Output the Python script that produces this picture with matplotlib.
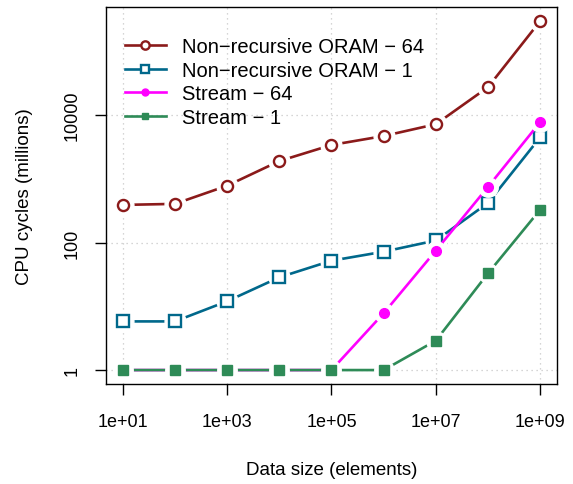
import numpy as np
import matplotlib
matplotlib.use("Agg")
import matplotlib.pyplot as plt

plt.rcParams['font.family'] = ['Liberation Sans', 'DejaVu Sans']

# data sizes (elements)
sizes = [1e1, 1e2, 1e3, 1e4, 1e5, 1e6, 1e7, 1e8, 1e9]

# CPU cycles (millions)
oram_64 = [390, 405, 780, 1900, 3400, 4700, 7200, 27500, 300000]
oram_1 = [5.8, 5.8, 12, 28.5, 52, 72, 108, 420, 4500]
stream_64 = [1, 1, 1, 1, 1, 7.8, 75, 750, 7800]
stream_1 = [1, 1, 1, 1, 1, 1, 2.9, 33, 330]

labels = ['Non\u2212recursive ORAM \u2212 64', 'Non\u2212recursive ORAM \u2212 1',
          'Stream \u2212 64', 'Stream \u2212 1']
colors = ['#8B1A1A', '#00688B', '#FF00FF', '#2E8B57']

fig = plt.figure(figsize=(5.73, 4.85), dpi=100)
ax = fig.add_axes([0.185, 0.206, 0.787, 0.778])

series = [
    (oram_64, 'o', 'white', 8, 1.7),
    (oram_1, 's', 'white', 8, 1.7),
    (stream_64, 'o', None, 7, 1.0),
    (stream_1, 's', None, 7, 1.0),
]

handles = []
for i, (vals, mk, face, ms, mew) in enumerate(series):
    c = colors[i]
    fc = c if face is None else face
    # line, then white blob to make the R "type='b'" gap, then marker
    ax.plot(sizes, vals, color=c, lw=1.9, zorder=2 + i)
    ax.plot(sizes, vals, ls='none', marker='o', ms=ms + 7, mfc='white',
            mec='white', zorder=2 + i)
    ax.plot(sizes, vals, ls='none', marker=mk, ms=ms, mfc=fc, mec=c,
            mew=mew, zorder=2 + i)
    handles.append(plt.Line2D([], [], color=c, lw=1.9, marker=mk, ms=ms - 2,
                              mfc=fc, mec=c, mew=mew))

ax.set_xscale('log')
ax.set_yscale('log')
ax.set_xlim(10 ** 0.68, 10 ** 9.32)
ax.set_ylim(10 ** -0.22, 10 ** 5.70)

xt = [1e1, 1e3, 1e5, 1e7, 1e9]
ax.set_xticks(xt)
ax.set_xticklabels(['1e+01', '1e+03', '1e+05', '1e+07', '1e+09'])
ax.set_yticks([1, 100, 10000])
ax.set_yticklabels(['1', '100', '10000'], rotation=90, va='center')
ax.minorticks_off()
ax.tick_params(direction='out', length=8, width=1, labelsize=13)
ax.tick_params(axis='x', pad=13)
ax.tick_params(axis='y', pad=10)
ax.grid(True, ls=(0, (1, 3)), color='#c8c8c8', lw=0.9)
ax.set_axisbelow(True)
for s in ax.spines.values():
    s.set_linewidth(1.0)

ax.set_xlabel('Data size (elements)', fontsize=13.5, labelpad=22)
ax.set_ylabel('CPU cycles (millions)', fontsize=13.5, labelpad=22)

ax.legend(handles, labels, loc='upper left', frameon=False, fontsize=14.5,
          handlelength=2.0, borderaxespad=0.0, labelspacing=0.22,
          handletextpad=0.8, bbox_to_anchor=(0.025, 0.94))

fig.savefig('out.png', dpi=100)
